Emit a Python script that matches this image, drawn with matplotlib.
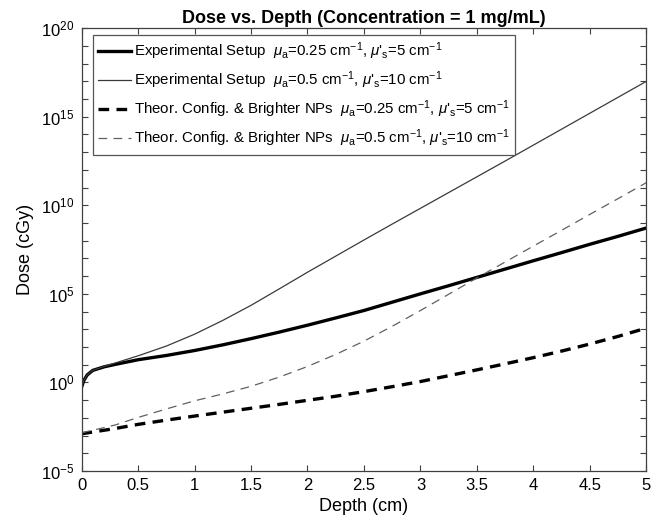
import numpy as np
from matplotlib import pyplot as plt
from matplotlib.ticker import FixedLocator, LogFormatterSciNotation, NullFormatter

plt.rcParams["font.family"] = ["Liberation Sans", "DejaVu Sans"]
plt.rcParams["mathtext.fontset"] = "custom"
plt.rcParams["mathtext.rm"] = "Liberation Sans"
plt.rcParams["mathtext.it"] = "Liberation Sans:italic"
plt.rcParams["mathtext.bf"] = "Liberation Sans:bold"

# depth (cm)
depth = [0, 0.02, 0.05, 0.1, 0.2, 0.3, 0.5, 0.75, 1.0, 1.25, 1.5, 1.75, 2.0,
         2.25, 2.5, 2.75, 3.0, 3.25, 3.5, 3.75, 4.0, 4.25, 4.5, 4.75, 5.0]

# log10 of dose (cGy)
exp_025 = [-0.28, 0.1, 0.42, 0.68, 0.88, 1.02, 1.28, 1.52, 1.8, 2.12, 2.47, 2.84, 3.23,
           3.64, 4.06, 4.53, 5.0, 5.46, 5.93, 6.4, 6.87, 7.33, 7.8, 8.25, 8.72]
exp_05 = [-0.28, 0.1, 0.42, 0.68, 0.9, 1.1, 1.5, 2.05, 2.72, 3.5, 4.35, 5.28, 6.22,
          7.13, 8.04, 8.94, 9.83, 10.72, 11.61, 12.5, 13.4, 14.3, 15.2, 16.1, 17.0]
theo_025 = [-2.9, -2.88, -2.85, -2.8, -2.7, -2.6, -2.37, -2.13, -1.9, -1.68, -1.46, -1.24, -1.01,
            -0.78, -0.52, -0.24, 0.05, 0.38, 0.71, 1.05, 1.4, 1.77, 2.17, 2.6, 3.07]
theo_05 = [-2.85, -2.82, -2.77, -2.7, -2.55, -2.4, -1.98, -1.5, -1.04, -0.65, -0.22, 0.3, 0.9,
           1.58, 2.33, 3.17, 4.06, 4.98, 5.9, 6.8, 7.7, 8.59, 9.49, 10.38, 11.28]

labels = [
    r"Experimental Setup  $\mu_\mathrm{a}$=0.25 cm$^{-1}$, $\mu$'$_\mathrm{s}$=5 cm$^{-1}$",
    r"Experimental Setup  $\mu_\mathrm{a}$=0.5 cm$^{-1}$, $\mu$'$_\mathrm{s}$=10 cm$^{-1}$",
    r"Theor. Config. & Brighter NPs  $\mu_\mathrm{a}$=0.25 cm$^{-1}$, $\mu$'$_\mathrm{s}$=5 cm$^{-1}$",
    r"Theor. Config. & Brighter NPs  $\mu_\mathrm{a}$=0.5 cm$^{-1}$, $\mu$'$_\mathrm{s}$=10 cm$^{-1}$",
]

fig = plt.figure(figsize=(6.6, 5.21), dpi=100)
ax = fig.add_axes([0.1235, 0.096, 0.856, 0.85])

d = np.array(depth)
ax.plot(d, 10 ** np.array(exp_025), color="black", lw=2.4, label=labels[0])
ax.plot(d, 10 ** np.array(exp_05), color="#3a3a3a", lw=0.9, label=labels[1])
ax.plot(d, 10 ** np.array(theo_025), color="black", lw=2.4, dashes=(3.2, 2.2), label=labels[2])
ax.plot(d, 10 ** np.array(theo_05), color="#606060", lw=0.9, dashes=(7, 5), label=labels[3])

ax.set_yscale("log")
ax.set_xlim(0, 5)
ax.set_ylim(1e-5, 1e20)
ax.set_xticks(np.arange(0, 5.01, 0.5))
ax.set_xticklabels(["0", "0.5", "1", "1.5", "2", "2.5", "3", "3.5", "4", "4.5", "5"])
ax.yaxis.set_major_locator(FixedLocator([1e-5, 1e0, 1e5, 1e10, 1e15, 1e20]))
ax.yaxis.set_major_formatter(LogFormatterSciNotation())
ax.yaxis.set_minor_locator(FixedLocator([10.0 ** k for k in range(-5, 21)]))
ax.yaxis.set_minor_formatter(NullFormatter())
ax.tick_params(which="both", direction="in", top=True, right=True, length=4.5,
               width=0.8, color="#404040", labelsize=12, pad=5)
for s in ax.spines.values():
    s.set_color("#404040")
    s.set_linewidth(0.9)

ax.set_xlabel("Depth (cm)", fontsize=13, labelpad=4)
ax.set_ylabel("Dose (cGy)", fontsize=13, labelpad=5)
ax.set_title("Dose vs. Depth (Concentration = 1 mg/mL)", fontsize=13, fontweight="bold", pad=4)

leg = ax.legend(loc="upper left", bbox_to_anchor=(0.02, 0.984), borderaxespad=0,
                fontsize=10.8, handlelength=2.2, handletextpad=0.2,
                borderpad=0.35, labelspacing=0.5, fancybox=False,
                framealpha=1, edgecolor="#555555")
leg.get_frame().set_linewidth(0.9)

fig.savefig("out.png", dpi=100)
